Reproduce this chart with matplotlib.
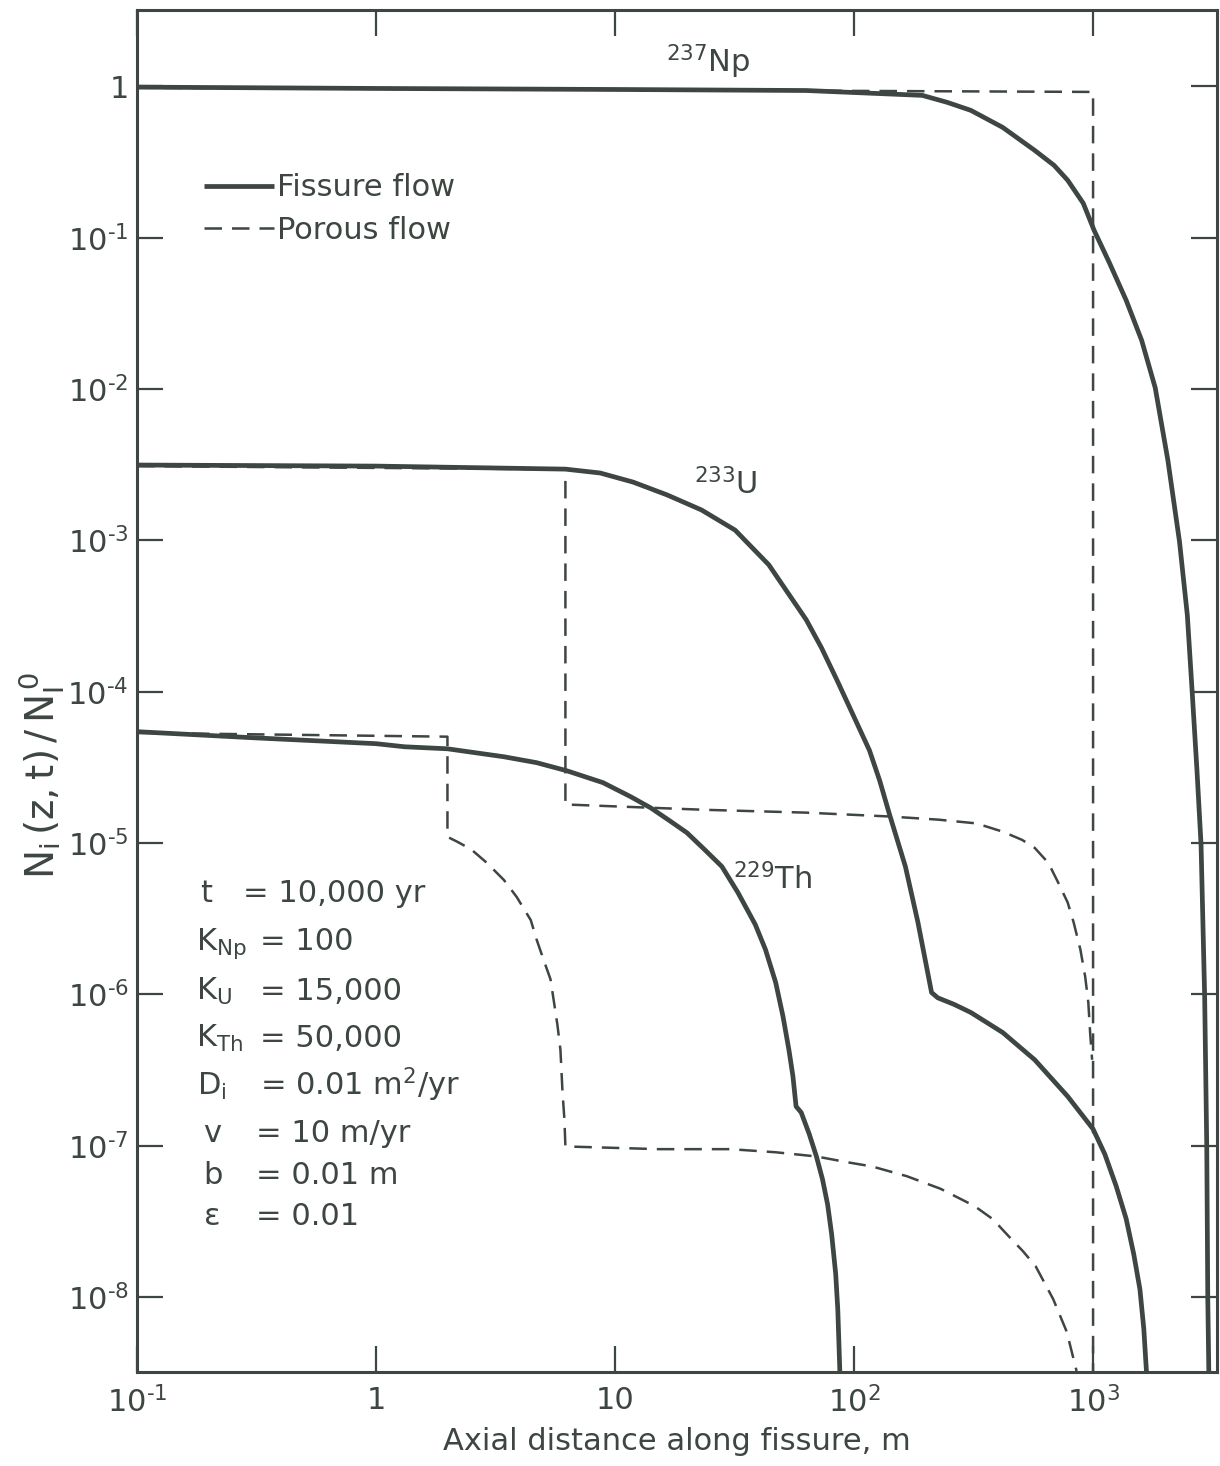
import matplotlib

matplotlib.use("Agg")
import matplotlib.pyplot as plt

np_fissure_x = [0.1, 1.0, 10, 63, 193, 246, 308, 419, 570, 687, 783, 910, 1010, 1172,
                1375, 1597, 1820, 2055, 2300, 2480, 2600, 2720, 2830, 2930, 2990, 3020, 3050]
np_fissure_y = [0.99, 0.97, 0.955, 0.94, 0.873, 0.784, 0.695, 0.536, 0.378, 0.301, 0.24,
                0.169, 0.112, 0.068, 0.0387, 0.021, 0.0102, 3.4e-3, 9.8e-4, 3.2e-4, 9.8e-5,
                3.05e-5, 9.8e-6, 9.7e-7, 9.8e-8, 9.7e-9, 3.2e-9]
np_porous_x = [0.1, 1000, 1000]
np_porous_y = [0.98, 0.92, 1e-10]

u_fissure_x = [0.1, 1.0, 6.2, 8.67, 11.9, 16.5, 23.0, 31.8, 44, 51.9, 63.1, 73.1, 84.7, 98,
               116, 128, 140, 164, 185, 211, 224, 262, 308, 419, 570, 783, 1000, 1120, 1250,
               1375, 1480, 1570, 1630, 1675]
u_fissure_y = [3.15e-3, 3.1e-3, 2.96e-3, 2.79e-3, 2.43e-3, 2.0e-3, 1.59e-3, 1.17e-3, 6.9e-4,
               4.7e-4, 2.99e-4, 1.95e-4, 1.2e-4, 7.3e-5, 4.1e-5, 2.59e-5, 1.59e-5, 7.0e-6,
               3.0e-6, 1.03e-6, 9.5e-7, 8.6e-7, 7.6e-7, 5.6e-7, 3.7e-7, 2.12e-7, 1.29e-7,
               8.8e-8, 5.4e-8, 3.3e-8, 1.92e-8, 1.13e-8, 6.2e-9, 3.1e-9]
u_porous_x = [0.1, 6.2, 6.2, 23.7, 63, 140, 224, 325, 419, 505, 570, 650, 714, 783, 829,
              885, 927, 955, 972, 991]
u_porous_y = [3.1e-3, 2.95e-3, 1.8e-5, 1.66e-5, 1.59e-5, 1.5e-5, 1.43e-5, 1.35e-5, 1.19e-5,
              1.05e-5, 9.3e-6, 7.4e-6, 5.5e-6, 4.05e-6, 3.0e-6, 1.98e-6, 1.31e-6, 8.9e-7,
              5.6e-7, 3.7e-7]

th_fissure_x = [0.1, 0.304, 1.0, 1.32, 1.99, 3.43, 4.7, 6.27, 8.9, 11.6, 14.1, 17.1, 20.0,
                23.7, 28.0, 32.7, 38.6, 42.6, 47, 50.4, 53.4, 55.5, 57.2, 60.1, 65, 69.6,
                73.8, 77.5, 80.6, 83.8, 85.5, 87.2]
th_fissure_y = [5.45e-5, 4.97e-5, 4.54e-5, 4.33e-5, 4.2e-5, 3.72e-5, 3.4e-5, 3.01e-5,
                2.51e-5, 2.03e-5, 1.71e-5, 1.39e-5, 1.17e-5, 9.06e-6, 7.0e-6, 4.7e-6, 2.9e-6,
                1.98e-6, 1.2e-6, 7.2e-7, 4.3e-7, 2.88e-7, 1.82e-7, 1.66e-7, 1.19e-7, 8.5e-8,
                6.0e-8, 4.1e-8, 2.6e-8, 1.42e-8, 8.3e-9, 3.25e-9]
th_porous_x = [0.1, 1.99, 1.99, 2.19, 2.5, 2.91, 3.43, 3.88, 4.44, 4.7, 5.02, 5.37, 5.53,
               5.74, 5.91, 6.03, 6.14, 6.2, 15.2, 30.3, 47, 69.6, 93, 119, 166, 230, 319,
               381, 443, 509, 575, 681, 776, 853]
th_porous_y = [5.35e-5, 5.05e-5, 1.1e-5, 1.02e-5, 9.1e-6, 7.4e-6, 5.7e-6, 4.4e-6, 3.1e-6,
               2.3e-6, 1.7e-6, 1.26e-6, 9.3e-7, 6.3e-7, 4.3e-7, 2.25e-7, 1.5e-7, 9.9e-8,
               9.5e-8, 9.5e-8, 9.06e-8, 8.5e-8, 7.8e-8, 7.3e-8, 6.3e-8, 5.2e-8, 4.0e-8,
               3.27e-8, 2.53e-8, 2.01e-8, 1.6e-8, 9.7e-9, 5.9e-9, 3.25e-9]

x_ticks = [0.1, 1, 10, 100, 1000]
x_labels = [r"$10^{\text{-}1}$", "1", "10", r"$10^{2}$", r"$10^{3}$"]
y_ticks = [1, 1e-1, 1e-2, 1e-3, 1e-4, 1e-5, 1e-6, 1e-7, 1e-8]
y_labels = ["1"] + [rf"$10^{{\text{{-}}{k}}}$" for k in range(1, 9)]

params = [
    ("t", "= 10,000 yr"),
    (r"K$_{Np}$", "= 100"),
    (r"K$_{U}$", "= 15,000"),
    (r"K$_{Th}$", "= 50,000"),
    (r"D$_{i}$", r"= 0.01 m$^{2}$/yr"),
    ("v", "= 10 m/yr"),
    ("b", "= 0.01 m"),
    (r"$\epsilon$", "= 0.01"),
]

INK = "#3d4640"
plt.rcParams["font.family"] = ["DejaVu Sans"]
plt.rcParams["mathtext.default"] = "regular"
plt.rcParams["mathtext.fontset"] = "dejavusans"

fig = plt.figure(figsize=(12.2, 14.66), dpi=100)
ax = fig.add_axes([137 / 1220, 1 - 1372 / 1466, 1080 / 1220, 1362 / 1466])
ax.set_xscale("log")
ax.set_yscale("log")
ax.set_xlim(0.1, 3300)
ax.set_ylim(3.2e-9, 3.2)

solid = dict(color=INK, lw=3.4, solid_capstyle="butt", solid_joinstyle="round", zorder=3)
dashed = dict(color=INK, lw=1.8, dashes=(7, 4), zorder=2)
ax.plot(np_fissure_x, np_fissure_y, **solid, label="Fissure flow")
ax.plot(u_fissure_x, u_fissure_y, **solid)
ax.plot(th_fissure_x, th_fissure_y, **solid)
ax.plot(np_porous_x, np_porous_y, **dashed, label="Porous flow")
ax.plot(u_porous_x, u_porous_y, **dashed)
ax.plot(th_porous_x, th_porous_y, **dashed)

ax.set_xticks(x_ticks)
ax.set_xticklabels(x_labels)
ax.set_yticks(y_ticks)
ax.set_yticklabels(y_labels)
ax.minorticks_off()
ax.tick_params(which="major", direction="in", length=19, width=1.6, color=INK,
               labelcolor=INK, labelsize=22, top=True, right=True)
ax.tick_params(axis="x", pad=10)
ax.tick_params(axis="y", pad=6)
for sp in ax.spines.values():
    sp.set_linewidth(2.2)
    sp.set_color(INK)

ax.set_xlabel("Axial distance along fissure, m", fontsize=22, color=INK, labelpad=6)
ax.set_ylabel(r"$N_{i}\,(z,t)\,/\,N_{I}^{\,0}$", fontsize=28, color=INK)
ax.yaxis.label.set_va("center")
ax.yaxis.set_label_coords(-0.088, 0.438)

leg = ax.legend(loc="upper left", bbox_to_anchor=(0.062, 0.88), frameon=False,
                fontsize=22, handlelength=2.3, handletextpad=0.1, labelspacing=0.43,
                borderaxespad=0, borderpad=0)
for t in leg.get_texts():
    t.set_color(INK)

ax.text(0.529, 0.962, r"$^{237}$Np", transform=ax.transAxes, fontsize=22, color=INK,
        ha="center", va="center")
ax.text(0.545, 0.652, r"$^{233}$U", transform=ax.transAxes, fontsize=22, color=INK,
        ha="center", va="center")
ax.text(0.588, 0.362, r"$^{229}$Th", transform=ax.transAxes, fontsize=22, color=INK,
        ha="center", va="center")

row_y = [0.3451, 0.3098, 0.2731, 0.2386, 0.2034, 0.1689, 0.1380, 0.1079]
sym_x = [0.058, 0.055, 0.055, 0.055, 0.056, 0.061, 0.061, 0.061]
eq_x = [0.098, 0.114, 0.114, 0.114, 0.114, 0.110, 0.110, 0.110]
for (sym, val), yy, sx, ex in zip(params, row_y, sym_x, eq_x):
    ax.text(sx, yy, sym, transform=ax.transAxes, fontsize=22, color=INK, va="baseline")
    ax.text(ex, yy, val, transform=ax.transAxes, fontsize=22, color=INK, va="baseline")

fig.savefig("out.png", dpi=100, facecolor="white")
